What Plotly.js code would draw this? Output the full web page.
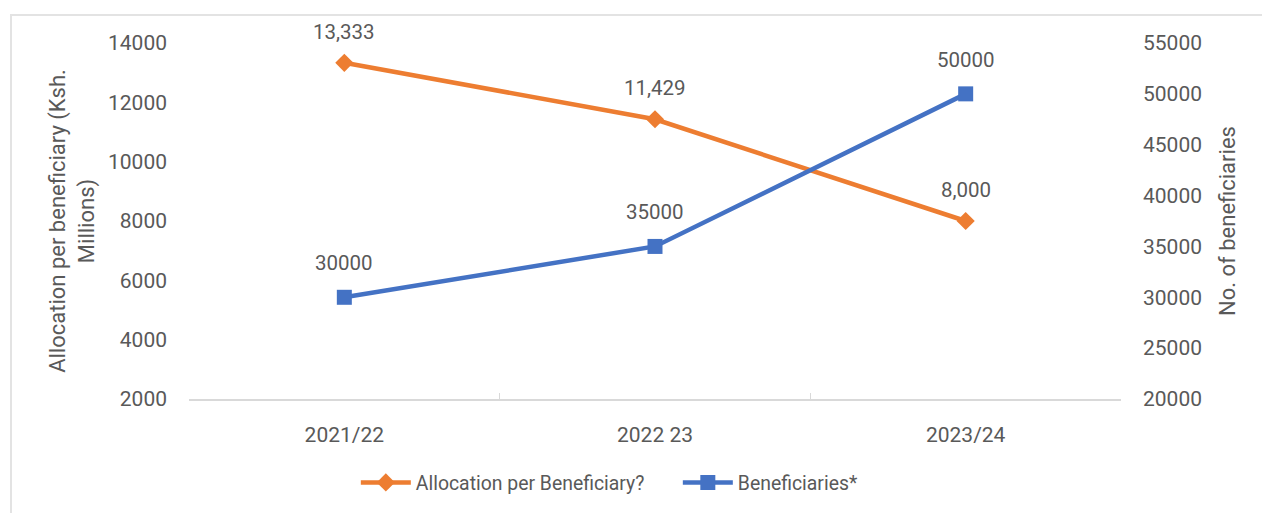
<!DOCTYPE html>
<html>
<head>
<meta charset="utf-8">
<script src="https://cdn.plot.ly/plotly-3.0.1.min.js"></script>
<style>
html,body{margin:0;padding:0;background:#fff;overflow:hidden;}
#frame{position:absolute;left:10px;top:14px;width:1300px;height:560px;border:2px solid #e3e3e3;box-sizing:border-box;}
#chart{position:absolute;left:0;top:0;width:1262px;height:513px;}
</style>
</head>
<body>
<div id="frame"></div>
<div id="chart"></div>
<script>
const years = ["2021/22", "2022 23", "2023/24"];
const allocation = [13333, 11429, 8000];
const allocationLabels = ["13,333", "11,429", "8,000"];
const beneficiaries = [30000, 35000, 50000];
const beneficiaryLabels = ["30000", "35000", "50000"];
const leftTicks = [2000, 4000, 6000, 8000, 10000, 12000, 14000];
const rightTicks = [20000, 25000, 30000, 35000, 40000, 45000, 50000, 55000];

const orange = "#ED7D31";
const blue = "#4472C4";
const grey = "#595959";
const fam = "Roboto, 'Noto Sans', sans-serif";
const tickFont = {family: fam, size: 21, color: grey};
const labelFont = {family: fam, size: 20.5, color: grey};
const titleFont = {family: fam, size: 22, color: grey};
const legendFont = {family: fam, size: 19.4, color: grey};

const traces = [
  {x: years, y: allocation, type: "scatter", mode: "lines+markers", name: "Allocation per Beneficiary?",
   line: {color: orange, width: 4.5}, marker: {symbol: "diamond", size: 14, color: orange}, yaxis: "y", hoverinfo: "none"},
  {x: years, y: beneficiaries, type: "scatter", mode: "lines+markers", name: "Beneficiaries*",
   line: {color: blue, width: 4.5}, marker: {symbol: "square", size: 15, color: blue}, yaxis: "y2", hoverinfo: "none"}
];

const annotations = [];
years.forEach((c, i) => {
  annotations.push({x: c, y: allocation[i], xref: "x", yref: "y", text: allocationLabels[i], showarrow: false, yshift: 31, font: labelFont});
  annotations.push({x: c, y: beneficiaries[i], xref: "x", yref: "y2", text: beneficiaryLabels[i], showarrow: false, yshift: 34, font: labelFont});
});

const layout = {
  width: 1262, height: 513,
  margin: {l: 189, r: 141, t: 43, b: 113},
  paper_bgcolor: "rgba(0,0,0,0)", plot_bgcolor: "rgba(0,0,0,0)",
  font: tickFont,
  showlegend: true,
  legend: {orientation: "h", x: 0.179, xanchor: "left", y: -0.232, yanchor: "middle", font: legendFont,
           itemwidth: 50, entrywidth: 257, entrywidthmode: "pixels", traceorder: "normal"},
  xaxis: {type: "category", range: [-0.5, 2.5], showline: true, linecolor: "#d9d9d9", linewidth: 1.5,
          ticks: "inside", tickson: "boundaries", ticklen: 6, tickcolor: "#d9d9d9", showgrid: false, zeroline: false,
          tickfont: tickFont, ticklabelstandoff: 16, fixedrange: true},
  yaxis: {range: [2000, 14000], tickvals: leftTicks, ticktext: leftTicks.map(String), showgrid: false, zeroline: false, showline: false,
          tickfont: tickFont, ticklabelstandoff: 21, automargin: false,
          title: {text: "Allocation per beneficiary (Ksh.<br>Millions)", font: titleFont, standoff: 7}},
  yaxis2: {range: [20000, 55000], tickvals: rightTicks, ticktext: rightTicks.map(String), overlaying: "y", side: "right",
           showgrid: false, zeroline: false, showline: false, tickfont: tickFont, ticklabelstandoff: 21, automargin: false,
           title: {text: "No. of beneficiaries", font: titleFont, standoff: 18}},
  annotations: annotations
};

Plotly.newPlot("chart", traces, layout, {displayModeBar: false, staticPlot: true});
</script>
</body>
</html>
